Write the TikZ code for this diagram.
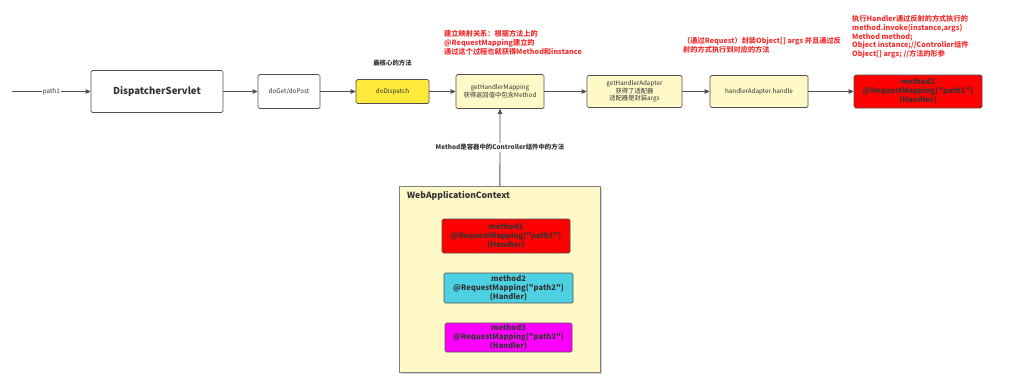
\documentclass[tikz,border=0pt]{standalone}
\usepackage{fontspec}
\setmainfont{Noto Sans CJK SC}
\newfontfamily\plainfont{Noto Sans CJK SC}
\usetikzlibrary{arrows.meta, shadows}
\definecolor{linegray}{HTML}{505050}
\definecolor{textgray}{HTML}{333333}
\definecolor{paleyellow}{HTML}{FFF9C8}
\definecolor{coreyellow}{HTML}{FFE93B}
\definecolor{notered}{HTML}{F53030}
\definecolor{handlercyan}{HTML}{4DD0E1}
\definecolor{handlermagenta}{HTML}{FF00FF}

\begin{document}
\begin{tikzpicture}[x=1pt, y=-1pt, >={Triangle[length=5pt,width=4.5pt]},
  box/.style={draw=linegray, line width=0.7pt, rounded corners=1.5pt, fill=paleyellow, align=center,
    inner sep=1pt, text=textgray, font=\fontsize{6.3}{7.6}\selectfont},
  handler/.style={box, font=\plainfont\fontsize{7.6}{9}\selectfont\bfseries},
  note/.style={anchor=north west, align=left, inner sep=0pt, text=notered,
    font=\fontsize{7.2}{8.6}\selectfont\bfseries},
  flow/.style={->, draw=linegray, thick}]
  \useasboundingbox[fill=white] (0,0) rectangle (1024,384);

  % main chain
  \coordinate (start) at (12,91.5);
  \node[box, fill=white, minimum width=132pt, minimum height=42pt,
    font=\fontsize{9.6}{11}\selectfont\bfseries] (ds) at (157,91.5) {DispatcherServlet};
  \node[box, fill=white, minimum width=62pt, minimum height=34pt] (dgp) at (289,91.5) {doGet/doPost};
  \node[box, fill=coreyellow, minimum width=73pt, minimum height=24pt] (dd) at (392.5,91.5) {doDispatch};
  \node[box, minimum width=88pt, minimum height=34pt] (ghm) at (500,91.5) {getHandlerMapping\\获得返回值中包含Method};
  \node[box, minimum width=95pt, minimum height=32pt] (gha) at (634.5,91.5) {getHandlerAdapter\\获得了适配器\\适配器是封装args};
  \node[box, minimum width=98pt, minimum height=32pt] (hah) at (759,91.5) {handlerAdapter.handle};
  \node[handler, fill=red, minimum width=128pt, minimum height=33pt] (m0) at (918,91.5) {method1\\@RequestMapping("path1")\\(Handler)};

  \draw[flow] (start) -- node[fill=white, inner sep=1pt, text=textgray,
    font=\fontsize{6.3}{7}\selectfont] (p1) {path1} (ds);
  \draw[flow] (ds) -- (dgp);
  \draw[flow] (dgp) -- (dd);
  \draw[flow] (dd) -- (ghm);
  \draw[flow] (ghm) -- (gha);
  \draw[flow] (gha) -- (hah);
  \draw[flow] (hah) -- (m0);

  % container with the handlers
  \node[draw=gray, line width=0.7pt, fill=paleyellow, drop shadow={shadow xshift=1.2pt, shadow yshift=-1.2pt, fill=gray!70},
    minimum width=201pt, minimum height=186pt, anchor=north west, inner sep=0pt] (wac) at (399,186) {};
  \node[anchor=north west, inner sep=0pt, text=textgray,
    font=\fontsize{8.6}{10}\selectfont\bfseries] (wactitle) at (407,191) {WebApplicationContext};
  \node[handler, fill=red, minimum width=128pt, minimum height=34pt] (m1) at (506,236) {method1\\@RequestMapping("path1")\\(Handler)};
  \node[handler, fill=handlercyan, minimum width=129pt, minimum height=30pt] (m2) at (508.5,288) {method2\\@RequestMapping("path2")\\(Handler)};
  \node[handler, fill=handlermagenta, minimum width=127pt, minimum height=29pt] (m3) at (508.5,337.5) {method3\\@RequestMapping("path3")\\(Handler)};

  \draw[flow] (wac.north) -- node[fill=white, inner sep=1pt, text=textgray,
    font=\fontsize{6.4}{7}\selectfont\bfseries] (methlabel) {Method是容器中的Controller组件中的方法} (ghm.south);

  % notes
  \node[anchor=center, inner sep=0pt, text=textgray,
    font=\fontsize{6.4}{7}\selectfont\bfseries] (core) at (392.5,63) {最核心的方法};
  \node[note] (mapnote) at (444,30.5) {建立映射关系：根据方法上的\\@RequestMapping建立的\\通过这个过程也就获得Method和instance};
  \node[note] (argsnote) at (683,37.5) {（通过Request）封装Object[] args 并且通过反\\射的方式执行到对应的方法};
  \node[note] (invnote) at (852,15.5) {执行Handler通过反射的方式执行的\\method.invoke(instance,args)\\Method method;\\Object instance;//Controller组件\\Object[] args; //方法的形参};
\end{tikzpicture}
\end{document}
